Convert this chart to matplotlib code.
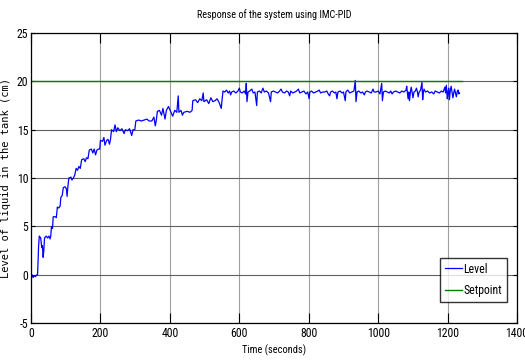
import matplotlib
import matplotlib.pyplot as plt

matplotlib.use("Agg")

# Rising part of the response (time in s, level in cm)
rise_t = [0, 3, 6, 9, 13, 17, 19, 22, 24, 28, 31, 33, 35, 37, 39, 44, 48, 52, 55, 57,
          59, 62, 64, 70, 73, 76, 80, 84, 86, 90, 93, 98, 102, 104, 106, 109, 115, 118,
          122, 126, 130, 134, 138, 142, 146, 152, 156, 160, 164, 168, 174, 178, 182,
          186, 190, 194, 198, 200, 206, 210, 213, 218, 222, 226, 229, 232, 238, 242,
          246, 250, 256, 262, 268, 272, 278, 284, 290, 294, 299, 302, 310, 318, 326,
          334, 340, 348, 354, 358, 361, 364, 370, 376, 380, 386, 390, 396, 402, 408,
          414, 420, 424, 426, 432, 436, 440, 450, 458, 464, 466, 474, 480, 486, 492,
          496, 498, 506, 512, 518, 524, 530, 536, 542, 548, 550]
rise_y = [-0.4, 0.0, -0.3, -0.1, -0.2, 0.0, 0.0, 3.0, 4.0, 3.8, 2.8, 3.0, 1.8, 2.5, 3.8,
          4.0, 3.8, 4.0, 3.7, 4.0, 5.0, 4.8, 6.0, 6.0, 5.9, 7.0, 6.9, 7.1, 8.0, 8.2, 9.0,
          9.1, 8.9, 8.1, 9.0, 10.0, 10.1, 9.8, 10.0, 10.3, 11.0, 10.8, 11.2, 11.0, 11.9,
          12.0, 11.7, 12.1, 12.0, 12.9, 13.0, 12.6, 13.0, 12.4, 12.9, 13.0, 13.0, 13.9,
          13.8, 14.2, 13.4, 13.9, 14.0, 13.5, 14.0, 15.0, 14.8, 15.5, 14.8, 15.2, 14.9,
          15.1, 14.6, 15.0, 14.9, 15.1, 14.4, 15.0, 15.0, 15.9, 16.0, 15.9, 16.0, 16.1,
          15.9, 15.9, 16.3, 15.4, 16.0, 16.9, 17.0, 16.5, 17.2, 16.1, 17.0, 17.4, 16.9,
          16.4, 17.0, 16.8, 18.5, 16.8, 17.0, 16.5, 16.8, 16.9, 16.8, 17.0, 18.0, 18.1,
          17.8, 18.2, 18.0, 18.8, 17.9, 18.1, 17.7, 18.3, 17.9, 18.0, 18.2, 17.8, 17.2,
          18.0]

# Settled part, close to setpoint with noise spikes
steady_t = [553, 558, 563, 568, 572, 575, 578, 584, 590, 596, 600, 603, 608, 614, 618,
            620, 622, 625, 630, 636, 640, 645, 650, 652, 658, 663, 668, 672, 678, 684,
            690, 692, 698, 704, 710, 716, 720, 724, 730, 736, 741, 745, 748, 754, 760,
            765, 770, 774, 780, 786, 792, 797, 801, 803, 808, 814, 820, 826, 830, 834,
            840, 846, 852, 856, 860, 863, 868, 874, 878, 881, 884, 890, 896, 900, 905,
            907, 912, 918, 924, 930, 934, 936, 939, 944, 950, 955, 960, 963, 968, 974,
            980, 985, 988, 994, 1000, 1005, 1010, 1012, 1015, 1020, 1026, 1032, 1036,
            1040, 1044, 1050, 1056, 1062, 1068, 1074, 1080, 1082, 1086, 1088, 1090, 1093,
            1095, 1098, 1100, 1103, 1107, 1110, 1113, 1115, 1118, 1122, 1126, 1128, 1130,
            1132, 1136, 1142, 1148, 1154, 1160, 1164, 1170, 1176, 1182, 1187, 1192, 1194,
            1196, 1199, 1201, 1203, 1205, 1207, 1210, 1213, 1215, 1218, 1220, 1223, 1225,
            1228, 1230, 1232, 1234]
steady_y = [19.0, 18.9, 19.1, 18.8, 19.0, 18.6, 18.9, 19.0, 18.8, 19.0, 19.3, 18.9, 18.8,
            19.0, 18.7, 19.8, 17.9, 18.9, 19.0, 19.2, 18.8, 18.9, 17.5, 18.9, 19.0, 18.8,
            19.3, 18.9, 19.0, 18.8, 17.9, 18.9, 19.0, 18.9, 18.8, 19.0, 19.2, 18.9, 18.8,
            19.0, 18.9, 18.5, 19.0, 18.8, 18.9, 19.0, 19.2, 18.8, 18.9, 19.0, 18.7, 18.9,
            18.2, 18.9, 19.0, 18.8, 18.9, 19.0, 19.1, 18.8, 18.9, 18.9, 19.0, 18.7, 18.5,
            18.9, 19.0, 18.8, 18.9, 18.2, 18.9, 19.0, 18.8, 18.9, 18.0, 18.9, 19.1, 18.8,
            18.9, 19.0, 20.1, 17.9, 18.9, 19.0, 18.8, 18.9, 18.6, 18.9, 19.0, 18.9, 18.8,
            19.2, 18.9, 18.9, 19.0, 18.7, 19.8, 18.0, 18.9, 19.0, 18.9, 18.8, 19.0, 18.7,
            18.9, 19.0, 18.9, 18.8, 19.0, 18.9, 19.1, 19.5, 18.2, 18.9, 18.0, 19.0, 19.4,
            18.8, 18.3, 18.9, 19.0, 19.3, 18.9, 18.4, 18.9, 19.1, 19.9, 18.1, 18.9, 19.2,
            18.9, 19.0, 18.8, 18.9, 18.7, 19.0, 18.9, 18.8, 19.0, 18.9, 19.4, 18.8, 19.6,
            18.2, 18.9, 19.3, 18.1, 18.9, 19.5, 18.8, 18.3, 18.9, 19.2, 18.7, 18.4, 19.0,
            19.1, 18.7, 18.8]

setpoint_t = [0, 1240]
setpoint_y = [20, 20]

x_ticks = [0, 200, 400, 600, 800, 1000, 1200, 1400]
y_ticks = [-5, 0, 5, 10, 15, 20, 25]

narrow = ["Roboto Condensed", "Archivo Narrow", "DejaVu Sans"]

fig = plt.figure(figsize=(5.25, 3.63), dpi=100)
ax = fig.add_axes([0.059, 0.110, 0.926, 0.799])

ax.plot(rise_t + steady_t, rise_y + steady_y, color=(0, 0, 1), lw=0.9, label="Level")
ax.plot(setpoint_t, setpoint_y, color=(0, 0.5, 0), lw=1.0, label="Setpoint")

ax.set_xlim(0, 1400)
ax.set_ylim(-5, 25)
ax.set_xticks(x_ticks)
ax.set_yticks(y_ticks)
ax.set_xticklabels([str(v) for v in x_ticks], family=narrow, fontsize=8.5)
ax.set_yticklabels([str(v) for v in y_ticks], family=narrow, fontsize=8.5)

ax.xaxis.grid(True, color="#a0a0a0", lw=0.8)
ax.yaxis.grid(True, color="#606060", lw=0.8)
ax.set_axisbelow(True)

ax.tick_params(axis="x", direction="in", length=7, width=0.8, top=True, pad=3)
ax.tick_params(axis="y", direction="in", length=3, width=0.8, right=True, pad=2)
for s in ax.spines.values():
    s.set_linewidth(0.9)
    s.set_color("black")

ax.set_title("Response of the system using IMC-PID", family=narrow, fontsize=7.3, pad=11)
ax.set_xlabel("Time (seconds)", family=narrow, fontsize=7.5, labelpad=3)
ax.set_ylabel("Level of liquid in the tank (cm)", family="DejaVu Sans Mono", fontsize=7.5, labelpad=4)

leg = ax.legend(loc="lower right", bbox_to_anchor=(0.979, 0.072), prop={"family": narrow, "size": 8.5},
                frameon=True, fancybox=False, handlelength=1.5, handletextpad=0.1,
                borderpad=0.4, labelspacing=0.75, borderaxespad=0)
leg.get_frame().set_edgecolor("black")
leg.get_frame().set_linewidth(1.0)

fig.savefig("out.png", dpi=100)
